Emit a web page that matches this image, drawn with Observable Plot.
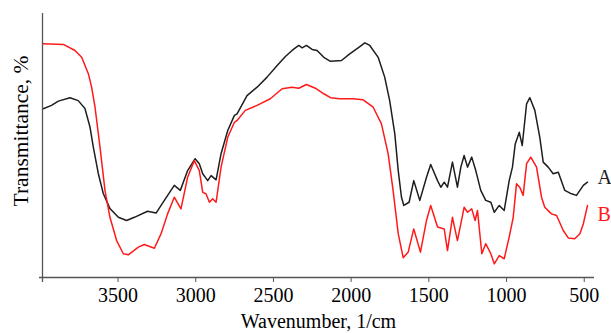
<!DOCTYPE html>
<html><head><meta charset="utf-8">
<script src="https://cdn.jsdelivr.net/npm/d3@7"></script>
<script src="https://cdn.jsdelivr.net/npm/@observablehq/plot@0.6"></script>
<style>html,body{margin:0;padding:0;background:#fff;}</style>
</head><body><div id="chart"></div>
<script>
const xDomain = [3986, 434];
const yDomain = [0, 100];
const xTicks = [3500, 3000, 2500, 2000, 1500, 1000, 500];
const seriesNames = ["A", "B"];
const seriesColors = ["#1e1e1e", "#ff1a1a"];
const labelT = [38, 24];

const wnA = [3981,3928,3884,3809,3756,3713,3680,3659,3627,3595,3552,3498,3445,3395,3310,3255,3202,3138,3099,3052,3004,2977,2955,2923,2901,2869,2837,2794,2751,2734,2670,2605,2541,2476,2423,2380,2337,2315,2288,2251,2219,2176,2133,2062,2009,1955,1912,1880,1826,1784,1752,1719,1697,1676,1661,1627,1597,1558,1515,1488,1444,1423,1401,1380,1348,1316,1294,1273,1251,1224,1198,1166,1134,1101,1079,1047,1015,983,962,944,918,899,871,850,818,786,764,732,700,667,625,582,550,528,506,479];
const tA = [63.9,65.2,66.8,68.1,67.0,64.0,56.9,49.4,39.4,31.8,26.1,22.8,21.6,22.8,25.1,24.4,29.2,34.9,33.0,40.5,45.0,43.1,39.3,36.7,38.6,37.0,46.9,55.7,61.4,62.0,68.9,72.1,75.9,80.3,83.7,86.0,87.9,87.0,87.9,86.4,86.0,83.4,81.9,82.2,84.7,87.0,88.9,87.9,83.4,75.9,67.0,54.4,40.5,30.4,27.3,28.5,36.7,29.2,38.0,42.8,36.7,34.2,36.1,34.2,43.7,34.2,41.8,46.2,41.8,45.6,40.5,33.0,29.2,28.5,24.7,27.3,25.4,36.7,41.8,50.6,55.0,50.0,65.8,68.1,63.3,53.1,43.7,41.8,39.3,39.9,33.0,31.7,31.1,33.0,34.9,36.1];

const wnB = [3981,3852,3777,3734,3691,3670,3648,3616,3584,3552,3509,3466,3434,3369,3331,3266,3223,3181,3138,3095,3052,3009,2977,2955,2934,2912,2891,2869,2837,2794,2751,2734,2681,2605,2520,2444,2380,2337,2288,2230,2176,2133,2073,1987,1923,1858,1805,1762,1730,1697,1665,1633,1597,1554,1515,1488,1444,1401,1380,1348,1316,1273,1251,1224,1202,1187,1159,1134,1101,1079,1047,1015,983,957,936,915,893,871,844,807,775,754,711,678,635,603,561,528,506,479];
const tB = [88.5,88.3,86.0,83.4,77.2,72.1,64.5,49.4,33.0,22.8,14.0,9.0,8.6,11.5,12.5,11.1,16.6,24.1,30.4,26.0,38.0,44.3,40.5,32.3,31.7,28.5,29.8,28.5,41.8,53.1,58.8,59.5,63.3,65.2,67.7,71.5,72.1,71.7,73.1,71.7,69.6,68.1,67.7,67.7,67.3,64.5,58.2,46.9,33.0,16.6,7.5,9.6,18.4,9.6,21.6,27.3,19.1,18.4,10.2,22.8,14.0,26.6,24.7,26.0,21.6,25.4,9.0,12.8,9.0,5.2,8.3,7.1,15.3,22.8,35.5,34.2,31.1,43.1,45.6,41.8,30.4,26.6,24.1,23.5,17.8,15.0,14.7,16.6,20.3,27.3];

const xTitle = "Wavenumber, 1/cm";
const yTitle = "Transmittance, %";

const rows = [
  ...wnA.map((w, i) => ({series: "A", wn: w, t: tA[i]})),
  ...wnB.map((w, i) => ({series: "B", wn: w, t: tB[i]}))
];
const labels = seriesNames.map((s, i) => ({series: s, wn: xDomain[1], t: labelT[i]}));

const font = "'Liberation Serif', 'Times New Roman', serif";
const plot = Plot.plot({
  width: 611, height: 333,
  marginLeft: 42, marginRight: 17, marginTop: 13, marginBottom: 56,
  style: {fontFamily: font, fontSize: "20px", background: "#fff", color: "#000", overflow: "visible"},
  x: {domain: xDomain, axis: null},
  y: {domain: yDomain, axis: null},
  color: {domain: seriesNames, range: seriesColors},
  marks: [
    Plot.lineY(rows, {x: "wn", y: "t", z: "series", stroke: "series", strokeWidth: 1.5}),
    Plot.ruleX([xDomain[0]], {stroke: "#555", strokeWidth: 1.3, insetBottom: -5}),
    Plot.ruleY([yDomain[0]], {stroke: "#555", strokeWidth: 1.3, insetLeft: -3}),
    Plot.axisX(xTicks, {tickSize: 5, tickPadding: 5, stroke: "#555", fill: "#000", tickFormat: "d", label: null}),
    Plot.text([xTitle], {text: d => d, frameAnchor: "bottom", dy: 44, lineAnchor: "middle", fill: "#000"}),
    Plot.text([yTitle], {text: d => d, frameAnchor: "left", dx: -21, dy: -14.5, rotate: -90, textAnchor: "middle", lineAnchor: "middle", fontSize: 21.5, fill: "#000"}),
    Plot.text(labels, {x: "wn", y: "t", text: "series", fill: "series", textAnchor: "start", dx: 3, lineAnchor: "middle", clip: false})
  ]
});
document.getElementById("chart").appendChild(plot);
</script>
</body></html>
